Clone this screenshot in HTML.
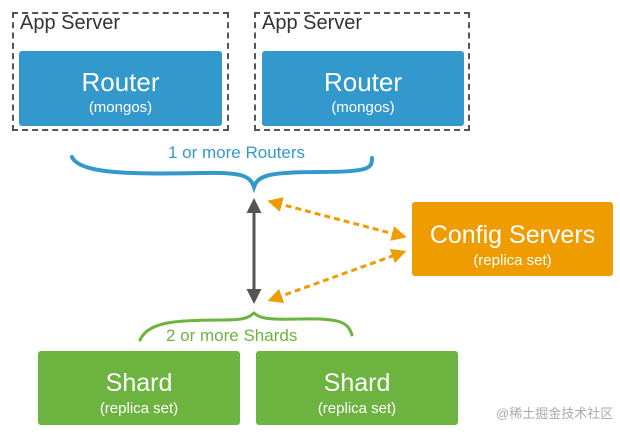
<!DOCTYPE html>
<html><head><meta charset="utf-8"><style>
body{margin:0;width:620px;height:440px;background:#fff;overflow:hidden;font-family:"Liberation Sans","Noto Sans CJK SC",sans-serif}
.a{position:absolute}
.dash{border:2px dashed #555;box-sizing:border-box}
.box{color:#fff;text-align:center;border-radius:3px}
.t{position:absolute;left:0;right:0;text-align:center;white-space:nowrap}
</style></head><body>
<div class="a dash" style="left:12px;top:12px;width:217px;height:119px"></div>
<div class="a dash" style="left:254px;top:12px;width:216px;height:119px"></div>
<div class="a" style="left:20px;top:12px;font-size:20px;color:#333">App Server</div>
<div class="a" style="left:262px;top:12px;font-size:20px;color:#333">App Server</div>
<div class="a box" style="left:19px;top:51px;width:203px;height:75px;background:#3399cc">
<div class="t" style="top:16px;font-size:26px">Router</div><div class="t" style="top:48px;font-size:15px">(mongos)</div></div>
<div class="a box" style="left:262px;top:51px;width:202px;height:75px;background:#3399cc">
<div class="t" style="top:16px;font-size:26px">Router</div><div class="t" style="top:48px;font-size:15px">(mongos)</div></div>
<div class="a" style="left:168px;top:143px;font-size:17px;color:#3399cc">1 or more Routers</div>
<div class="a box" style="left:412px;top:202px;width:201px;height:74px;background:#ee9c00">
<div class="t" style="top:19px;font-size:25px">Config Servers</div><div class="t" style="top:50px;font-size:15px">(replica set)</div></div>
<div class="a" style="left:166px;top:326px;font-size:17px;color:#6cb33f">2 or more Shards</div>
<div class="a box" style="left:38px;top:351px;width:202px;height:74px;background:#6cb33f">
<div class="t" style="top:18px;font-size:25px">Shard</div><div class="t" style="top:49px;font-size:15px">(replica set)</div></div>
<div class="a box" style="left:256px;top:351px;width:202px;height:74px;background:#6cb33f">
<div class="t" style="top:18px;font-size:25px">Shard</div><div class="t" style="top:49px;font-size:15px">(replica set)</div></div>
<div class="a" style="left:496px;top:403px;font-size:13px;color:#aaa">@稀土掘金技术社区</div>
<svg class="a" style="left:0;top:0" width="620" height="440">
<defs>
<marker id="k" markerWidth="5" markerHeight="5" refX="2" refY="2.5" orient="auto-start-reverse"><path d="M0,0L5,2.5L0,5z" fill="#555"/></marker>
<marker id="o" markerWidth="5" markerHeight="5" refX="2" refY="2.5" orient="auto-start-reverse"><path d="M0,0L5,2.5L0,5z" fill="#ee9c00"/></marker>
</defs>
<path d="M72,157 C80,175 140,174 200,173 C240,172 250,175 254,187 C258,175 270,172 320,172 C370,172 372,168 372,158" fill="none" stroke="#3399cc" stroke-width="4" stroke-linecap="round"/>
<path d="M140,340 C148,322 175,320 220,320 C245,320 248,318 254,313 C260,318 265,320 300,319 C340,318 348,322 352,335" fill="none" stroke="#6cb33f" stroke-width="3" stroke-linecap="round"/>
<line x1="254" y1="207" x2="254" y2="295" stroke="#555" stroke-width="3" marker-start="url(#k)" marker-end="url(#k)"/>
<line x1="276" y1="203" x2="398" y2="235" stroke="#ee9c00" stroke-width="3" stroke-dasharray="6,4" marker-start="url(#o)" marker-end="url(#o)"/>
<line x1="276" y1="298" x2="398" y2="254" stroke="#ee9c00" stroke-width="3" stroke-dasharray="6,4" marker-start="url(#o)" marker-end="url(#o)"/>
</svg>
</body></html>
